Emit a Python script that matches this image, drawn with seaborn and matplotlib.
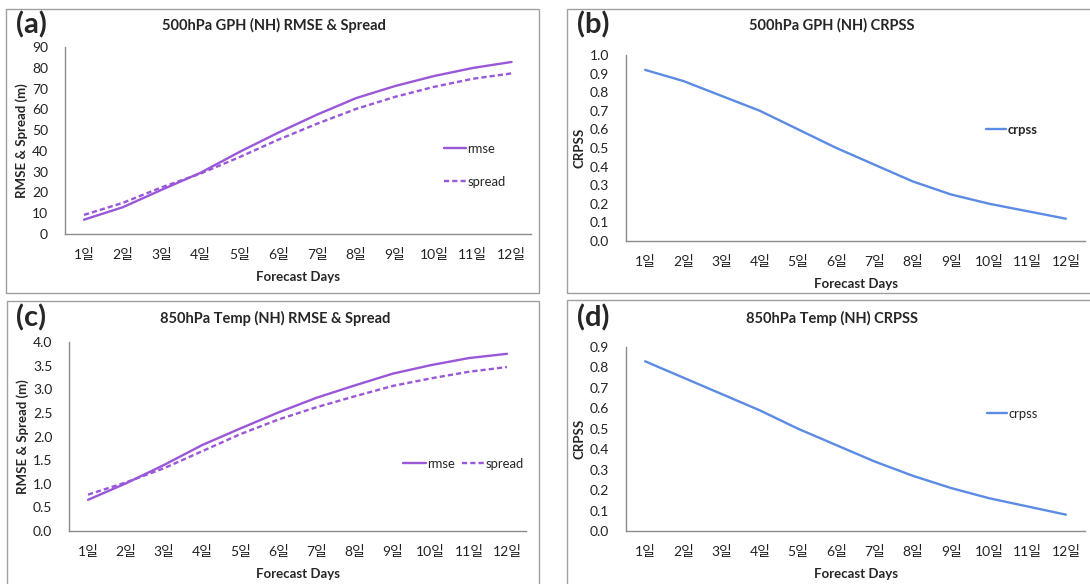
import matplotlib
matplotlib.use("Agg")
import matplotlib.pyplot as plt
import numpy as np
import pandas as pd
import seaborn as sns
from matplotlib.patches import Rectangle

# ---------------- data ----------------
days = ['1일', '2일', '3일', '4일', '5일', '6일', '7일', '8일', '9일', '10일', '11일', '12일']
gph_rmse = [6.9, 12.9, 21.3, 29.5, 39.5, 48.8, 57.5, 65.4, 71.2, 76.0, 79.9, 82.8]
gph_spread = [9.2, 15.0, 22.5, 29.1, 37.0, 45.4, 53.1, 60.2, 66.0, 70.8, 74.7, 77.3]
gph_crpss = [0.92, 0.86, 0.78, 0.70, 0.60, 0.50, 0.41, 0.32, 0.25, 0.20, 0.16, 0.12]
t850_rmse = [0.66, 1.01, 1.40, 1.82, 2.17, 2.51, 2.82, 3.08, 3.33, 3.51, 3.66, 3.75]
t850_spread = [0.77, 1.03, 1.33, 1.69, 2.05, 2.36, 2.62, 2.85, 3.07, 3.23, 3.37, 3.47]
t850_crpss = [0.83, 0.75, 0.67, 0.59, 0.50, 0.42, 0.34, 0.27, 0.21, 0.16, 0.12, 0.08]

titles = ['500hPa GPH (NH) RMSE & Spread', '500hPa GPH (NH) CRPSS',
          '850hPa Temp (NH) RMSE & Spread', '850hPa Temp (NH) CRPSS']
panel_tags = ['(a)', '(b)', '(c)', '(d)']

PURPLE = '#9a57d8'
BLUE = '#5b8be3'
GRAY = '#8c8c8c'

sns.set_style('white')
plt.rcParams['font.family'] = ['Lato', 'Noto Sans CJK KR', 'DejaVu Sans']
plt.rcParams['axes.unicode_minus'] = False

W, H = 1090, 584
fig = plt.figure(figsize=(W / 100, H / 100), dpi=100)


def fx(x):
    return x / W


def fy(y):
    return 1 - y / H


def add_axes_px(l, r, t, b):
    return fig.add_axes([fx(l), fy(b), (r - l) / W, (b - t) / H])


# panel borders
for (l, t, r, b) in [(6, 9, 539, 293), (567, 9, 1100, 293), (7, 301, 539, 600), (567, 300, 1100, 600)]:
    fig.add_artist(Rectangle((fx(l), fy(b)), (r - l) / W, (b - t) / H,
                             transform=fig.transFigure, fill=False,
                             edgecolor='#a0a0a0', lw=1.0))

pos = np.arange(1, len(days) + 1)


def style_axes(ax, ymax, ystep, yfmt, ylabel):
    ax.set_xlim(0.5, len(days) + 0.5)
    ax.set_ylim(0, ymax)
    yt = np.round(np.arange(0, ymax + ystep / 2, ystep), 5)
    ax.set_yticks(yt)
    ax.set_yticklabels([yfmt.format(v) for v in yt], fontsize=10, color='#222222')
    ax.set_xticks(pos)
    ax.set_xticklabels(days, fontsize=10, color='#222222')
    ax.set_xticks(np.arange(1.5, len(days) + 1, 1.0), minor=True)
    ax.tick_params(axis='x', which='major', length=0, pad=10)
    ax.tick_params(axis='x', which='minor', length=4, direction='in', color=GRAY, width=1)
    ax.tick_params(axis='y', which='major', length=4, direction='in', color=GRAY, width=1, pad=12)
    for s in ['top', 'right']:
        ax.spines[s].set_visible(False)
    for s in ['left', 'bottom']:
        ax.spines[s].set_color(GRAY)
        ax.spines[s].set_linewidth(1.0)
    ax.set_xlabel('Forecast Days', fontsize=9.5, fontweight='bold', labelpad=7)
    ax.set_ylabel(ylabel, fontsize=9.5, fontweight='bold', labelpad=3)
    ax.grid(False)
    ax.set_facecolor('none')


def rmse_panel(ax, rmse, spread):
    sns.lineplot(x=pos, y=rmse, ax=ax, color=PURPLE, lw=1.7, label='rmse')
    sns.lineplot(x=pos, y=spread, ax=ax, color=PURPLE, lw=1.7, label='spread',
                 linestyle=(0, (2.2, 1.3)))


def crpss_panel(ax, vals):
    sns.lineplot(x=pos, y=vals, ax=ax, color=BLUE, lw=1.7, label='crpss')


LEG_FS = 9.4

# (a)
axa = add_axes_px(64.6, 531, 47, 234)
rmse_panel(axa, gph_rmse, gph_spread)
style_axes(axa, 90, 10, '{:.0f}', 'RMSE & Spread (m)')
axa.legend(loc='upper left', bbox_to_anchor=(fx(444), fy(143)), bbox_transform=fig.transFigure,
           frameon=False, fontsize=LEG_FS, handlelength=1.65, handletextpad=0.15,
           labelspacing=1.6, borderpad=0, borderaxespad=0)

# (b)
axb = add_axes_px(626, 1085, 55, 241)
crpss_panel(axb, gph_crpss)
style_axes(axb, 1.0, 0.1, '{:.1f}', 'CRPSS')
lb = axb.legend(loc='upper left', bbox_to_anchor=(fx(986), fy(124)), bbox_transform=fig.transFigure,
                frameon=False, fontsize=LEG_FS, handlelength=1.55, handletextpad=0.1,
                borderpad=0, borderaxespad=0)
for t in lb.get_texts():
    t.set_fontweight('bold')

# (c)
axc = add_axes_px(69, 526, 342, 531)
rmse_panel(axc, t850_rmse, t850_spread)
style_axes(axc, 4.0, 0.5, '{:.1f}', 'RMSE & Spread (m)')
axc.legend(loc='upper left', bbox_to_anchor=(fx(403), fy(458)), bbox_transform=fig.transFigure,
           frameon=False, fontsize=LEG_FS, handlelength=1.75, handletextpad=0.1, ncol=2,
           columnspacing=0.5, borderpad=0, borderaxespad=0)

# (d)
axd = add_axes_px(626, 1085, 347, 531)
crpss_panel(axd, t850_crpss)
style_axes(axd, 0.9, 0.1, '{:.1f}', 'CRPSS')
axd.legend(loc='upper left', bbox_to_anchor=(fx(987), fy(408)), bbox_transform=fig.transFigure,
           frameon=False, fontsize=LEG_FS, handlelength=1.55, handletextpad=0.1,
           borderpad=0, borderaxespad=0)

# titles and panel tags
title_pos = [(274, 25), (832, 25), (275, 318), (832, 318)]
tag_pos = [(31, 25), (593, 25), (31, 318), (593, 318)]
for t, (x, y) in zip(titles, title_pos):
    fig.text(fx(x), fy(y), t, ha='center', va='center', fontsize=10.5, fontweight='bold')
for t, (x, y) in zip(panel_tags, tag_pos):
    fig.text(fx(x), fy(y), t, ha='center', va='center', fontsize=21, fontweight='bold')

fig.savefig('out.png', dpi=100, facecolor='white')
